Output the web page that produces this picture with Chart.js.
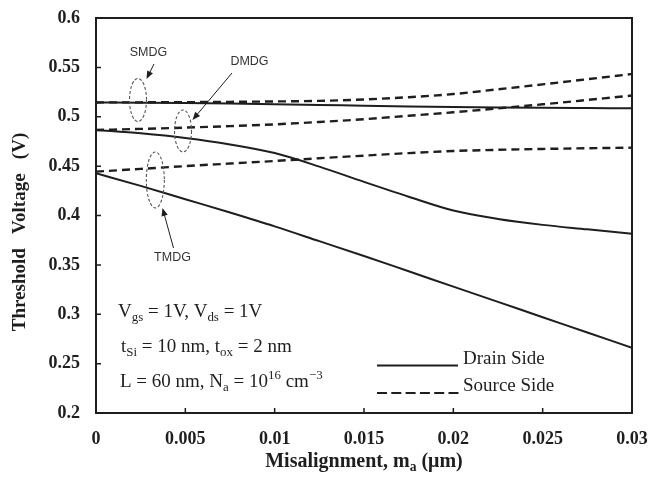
<!DOCTYPE html>
<html>
<head>
<meta charset="utf-8">
<script src="https://cdn.jsdelivr.net/npm/chart.js@4"></script>
<style>
  html, body { margin: 0; padding: 0; background: #fff; }
  #wrap { width: 648px; height: 482px; position: relative; }
</style>
</head>
<body>
<div id="wrap"><canvas id="c"></canvas></div>
<script>
// Misalignment (µm)
const misalignment = [0, 0.0025, 0.005, 0.0075, 0.01, 0.0125, 0.015, 0.0175, 0.02, 0.0225, 0.025, 0.0275, 0.03];

// Threshold voltage (V), drain-side and source-side misalignment
const smdgDrain  = [0.5145, 0.5142, 0.5138, 0.5133, 0.5127, 0.5120, 0.5112, 0.5105, 0.5099, 0.5094, 0.5090, 0.5088, 0.5086];
const smdgSource = [0.5145, 0.5146, 0.5148, 0.5151, 0.5155, 0.5161, 0.5175, 0.5198, 0.5230, 0.5278, 0.5328, 0.5380, 0.5433];
const dmdgDrain  = [0.4866, 0.4832, 0.4785, 0.4720, 0.4632, 0.4495, 0.4340, 0.4190, 0.4050, 0.3965, 0.3905, 0.3860, 0.3815];
const dmdgSource = [0.4866, 0.4877, 0.4890, 0.4905, 0.4923, 0.4947, 0.4975, 0.5010, 0.5045, 0.5085, 0.5126, 0.5170, 0.5215];
const tmdgDrain  = [0.4427, 0.4300, 0.4165, 0.4030, 0.3890, 0.3740, 0.3590, 0.3435, 0.3280, 0.3125, 0.2970, 0.2815, 0.2660];
const tmdgSource = [0.4444, 0.4472, 0.4500, 0.4526, 0.4552, 0.4580, 0.4606, 0.4632, 0.4653, 0.4665, 0.4674, 0.4681, 0.4687];

// Axis ticks
const xTickValues = [0, 0.005, 0.01, 0.015, 0.02, 0.025, 0.03];
const xTickLabels = ['0', '0.005', '0.01', '0.015', '0.02', '0.025', '0.03'];
const yTickValues = [0.2, 0.25, 0.3, 0.35, 0.4, 0.45, 0.5, 0.55, 0.6];
const yTickLabels = ['0.2', '0.25', '0.3', '0.35', '0.4', '0.45', '0.5', '0.55', '0.6'];

const INK = '#1e1e1e';
const SERIF = '"Liberation Serif", "Times New Roman", serif';
const SANS = '"Liberation Sans", Arial, sans-serif';

const pts = arr => misalignment.map((x, i) => ({ x, y: arr[i] }));

function series(label, arr, dashed) {
  return {
    label,
    data: pts(arr),
    borderColor: INK,
    borderWidth: dashed ? 2.4 : 2,
    borderDash: dashed ? [8, 5] : [],
    pointRadius: 0,
    fill: false,
    cubicInterpolationMode: 'monotone'
  };
}

// Draws text runs with subscripts / superscripts, returns width
function richText(ctx, runs, x, y, size, weight, measureOnly) {
  let cx = x;
  for (const [t, mode] of runs) {
    const s = mode ? size * 0.68 : size;
    ctx.font = `${weight} ${s}px ${SERIF}`;
    const dy = mode === 'sub' ? size * 0.22 : mode === 'sup' ? -size * 0.4 : 0;
    if (!measureOnly) ctx.fillText(t, cx, y + dy);
    cx += ctx.measureText(t).width;
  }
  return cx - x;
}

function arrow(ctx, x1, y1, x2, y2) {
  const a = Math.atan2(y2 - y1, x2 - x1);
  const L = 8, W = 3.2;
  ctx.beginPath();
  ctx.moveTo(x1, y1);
  ctx.lineTo(x2 - Math.cos(a) * L * 0.8, y2 - Math.sin(a) * L * 0.8);
  ctx.stroke();
  ctx.beginPath();
  ctx.moveTo(x2, y2);
  ctx.lineTo(x2 - Math.cos(a) * L - Math.sin(a) * W, y2 - Math.sin(a) * L + Math.cos(a) * W);
  ctx.lineTo(x2 - Math.cos(a) * L + Math.sin(a) * W, y2 - Math.sin(a) * L - Math.cos(a) * W);
  ctx.closePath();
  ctx.fill();
}

const decorations = {
  id: 'decorations',
  afterDraw(chart) {
    const { ctx, chartArea: a, scales: { x, y } } = chart;
    ctx.save();

    // Plot frame
    ctx.strokeStyle = INK;
    ctx.lineWidth = 2;
    ctx.strokeRect(a.left, a.top, a.right - a.left, a.bottom - a.top);

    // Inward tick marks
    ctx.lineWidth = 1.5;
    ctx.beginPath();
    xTickValues.forEach(v => {
      const px = x.getPixelForValue(v);
      ctx.moveTo(px, a.bottom); ctx.lineTo(px, a.bottom - 5);
    });
    yTickValues.forEach(v => {
      const py = y.getPixelForValue(v);
      ctx.moveTo(a.left, py); ctx.lineTo(a.left + 5, py);
    });
    ctx.stroke();

    // Axis titles
    ctx.fillStyle = INK;
    ctx.textBaseline = 'alphabetic';
    ctx.textAlign = 'left';
    const xt = [['Misalignment, m', ''], ['a', 'sub'], [' (\u03BCm)', '']];
    const w = richText(ctx, xt, 0, 0, 20, 'bold', true);
    richText(ctx, xt, (a.left + a.right) / 2 - w / 2, 467, 20, 'bold');

    ctx.save();
    ctx.translate(25, 232);
    ctx.rotate(-Math.PI / 2);
    ctx.font = `bold 19px ${SERIF}`;
    ctx.textAlign = 'center';
    ctx.fillText('Threshold   Voltage   (V)', 0, 0);
    ctx.restore();

    // Dashed ellipses marking each device's curve pair
    ctx.strokeStyle = '#555';
    ctx.lineWidth = 1.1;
    ctx.setLineDash([3, 2]);
    const ell = (vx, vy, rx, ry) => {
      ctx.beginPath();
      ctx.ellipse(x.getPixelForValue(vx), y.getPixelForValue(vy), rx, ry, 0, 0, Math.PI * 2);
      ctx.stroke();
    };
    ell(0.00235, 0.517, 8.5, 21.5);
    ell(0.00487, 0.4856, 8.5, 21);
    ell(0.00332, 0.436, 9, 28);
    ctx.setLineDash([]);

    // Arrows and device labels
    ctx.strokeStyle = INK;
    ctx.fillStyle = INK;
    ctx.lineWidth = 1;
    arrow(ctx, 154, 64, 146.5, 79);
    arrow(ctx, 232, 73, 192.5, 120);
    arrow(ctx, 173.5, 248, 162.5, 208);

    ctx.fillStyle = '#333';
    ctx.font = `12.5px ${SANS}`;
    ctx.textAlign = 'center';
    ctx.textBaseline = 'middle';
    ctx.fillText('SMDG', 148.5, 52.5);
    ctx.fillText('DMDG', 249.5, 62);
    ctx.fillText('TMDG', 172.5, 257.5);

    // Bias and geometry parameters
    ctx.fillStyle = INK;
    ctx.textAlign = 'left';
    ctx.textBaseline = 'alphabetic';
    richText(ctx, [['V', ''], ['gs', 'sub'], [' = 1V, V', ''], ['ds', 'sub'], [' = 1V', '']], 118, 317, 19, 'normal');
    richText(ctx, [['t', ''], ['Si', 'sub'], [' = 10 nm, t', ''], ['ox', 'sub'], [' = 2 nm', '']], 121, 351.5, 19, 'normal');
    richText(ctx, [['L = 60 nm, N', ''], ['a', 'sub'], [' = 10', ''], ['16', 'sup'], [' cm', ''], ['\u22123', 'sup']], 120, 386.5, 19, 'normal');

    // Line-style key
    ctx.strokeStyle = INK;
    ctx.lineWidth = 2;
    ctx.beginPath();
    ctx.moveTo(377, 365.5); ctx.lineTo(458, 365.5);
    ctx.stroke();
    ctx.setLineDash([10, 4.3]);
    ctx.beginPath();
    ctx.moveTo(377, 393); ctx.lineTo(459, 393);
    ctx.stroke();
    ctx.setLineDash([]);
    ctx.font = `19px ${SERIF}`;
    ctx.fillText('Drain Side', 463, 364);
    ctx.fillText('Source Side', 463, 390.5);

    ctx.restore();
  }
};

new Chart(document.getElementById('c'), {
  type: 'line',
  data: {
    datasets: [
      series('SMDG drain side', smdgDrain, false),
      series('SMDG source side', smdgSource, true),
      series('DMDG drain side', dmdgDrain, false),
      series('DMDG source side', dmdgSource, true),
      series('TMDG drain side', tmdgDrain, false),
      series('TMDG source side', tmdgSource, true)
    ]
  },
  options: {
    responsive: true,
    maintainAspectRatio: false,
    animation: false,
    layout: { padding: { top: 18, right: 16, left: 0, bottom: 0 } },
    plugins: { legend: { display: false }, tooltip: { enabled: false } },
    scales: {
      x: {
        type: 'linear',
        min: 0,
        max: 0.03,
        grid: { display: false, drawTicks: false },
        border: { display: false },
        afterBuildTicks: s => { s.ticks = xTickValues.map(v => ({ value: v })); },
        afterFit: s => { s.height = 69; s.paddingLeft = 0; s.paddingRight = 0; },
        ticks: {
          callback: (v, i) => xTickLabels[i],
          font: { family: SERIF, size: 18, weight: 'bold' },
          color: INK,
          padding: 16,
          maxRotation: 0,
          autoSkip: false
        }
      },
      y: {
        type: 'linear',
        min: 0.2,
        max: 0.6,
        grid: { display: false, drawTicks: false },
        border: { display: false },
        afterBuildTicks: s => { s.ticks = yTickValues.map(v => ({ value: v })); },
        afterFit: s => { s.width = 96; s.paddingTop = 0; s.paddingBottom = 0; },
        ticks: {
          callback: (v, i) => yTickLabels[i],
          font: { family: SERIF, size: 18, weight: 'bold' },
          color: INK,
          padding: 16,
          autoSkip: false
        }
      }
    }
  },
  plugins: [decorations]
});
</script>
</body>
</html>
